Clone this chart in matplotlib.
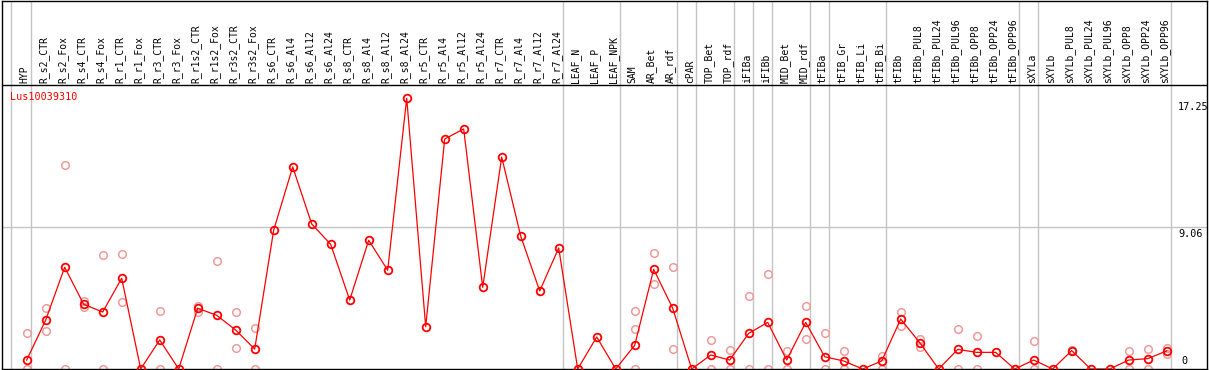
import numpy as np
import matplotlib as mpl
mpl.use('Agg')
import matplotlib.pyplot as plt

labels = ['HYP', 'R_s2_CTR', 'R_s2_Fox', 'R_s4_CTR', 'R_s4_Fox', 'R_r1_CTR', 'R_r1_Fox',
          'R_r3_CTR', 'R_r3_Fox', 'R_r1s2_CTR', 'R_r1s2_Fox', 'R_r3s2_CTR', 'R_r3s2_Fox',
          'R_s6_CTR', 'R_s6_Al4', 'R_s6_Al12', 'R_s6_Al24', 'R_s8_CTR', 'R_s8_Al4',
          'R_s8_Al12', 'R_s8_Al24', 'R_r5_CTR', 'R_r5_Al4', 'R_r5_Al12', 'R_r5_Al24',
          'R_r7_CTR', 'R_r7_Al4', 'R_r7_Al12', 'R_r7_Al24', 'LEAF_N', 'LEAF_P', 'LEAF_NPK',
          'SAM', 'AR_Bet', 'AR_rdf', 'cPAR', 'TOP_Bet', 'TOP_rdf', 'iFIBa', 'iFIBb',
          'MID_Bet', 'MID_rdf', 'tFIBa', 'tFIB_Gr', 'tFIB_Li', 'tFIB_Bi', 'tFIBb',
          'tFIBb_PUL8', 'tFIBb_PUL24', 'tFIBb_PUL96', 'tFIBb_OPP8', 'tFIBb_OPP24',
          'tFIBb_OPP96', 'sXYLa', 'sXYLb', 'sXYLb_PUL8', 'sXYLb_PUL24', 'sXYLb_PUL96',
          'sXYLb_OPP8', 'sXYLb_OPP24', 'sXYLb_OPP96']

means = [0.57, 3.12, 6.48, 4.12, 3.63, 5.78, 0, 1.85, 0, 3.87, 3.42, 2.48, 1.27,
         8.85, 12.87, 9.24, 7.94, 4.39, 8.2, 6.29, 17.25, 2.69, 14.65, 15.29, 5.2,
         13.5, 8.47, 4.97, 7.71, 0, 2.04, 0,
         1.51, 6.35, 3.87, 0, 0.89, 0.57, 2.27, 2.97, 0.57, 2.97, 0.78, 0.51, 0, 0.51,
         3.18, 1.68, 0, 1.25, 1.06, 1.06, 0, 0.57, 0, 1.17, 0, 0, 0.57, 0.66, 1.15]

nan = np.nan
rep1 = [2.27, 3.87, 13.0, 4.33, 7.24, 7.31, nan, 3.67, nan, 4.01, 6.9, 3.61, 2.59,
        nan, nan, nan, nan, nan, nan, nan, nan, nan, nan, nan, nan,
        nan, nan, nan, nan, nan, nan, nan,
        3.69, 7.37, 6.5, nan, 1.85, 1.21, 4.63, 6.03, 1.15, 3.99, 2.27, 1.15, nan, 0.83,
        3.61, 1.91, nan, 2.53, 2.12, nan, nan, 1.76, nan, 1.22, nan, nan, 1.15, 1.25, 1.32]
rep2 = [0, 2.42, 0, 3.97, 0, 4.25, nan, 0, nan, 3.65, 0, 1.32, 0,
        nan, nan, nan, nan, nan, nan, nan, nan, nan, nan, nan, nan,
        nan, nan, nan, nan, nan, nan, nan,
        2.53, 5.39, 1.27, nan, 0, 0, 0, 0, 0, 1.89, 0, 0, nan, 0,
        2.74, 1.4, nan, 0, 0, nan, nan, 0, nan, 1.12, nan, nan, 0, 0, 0.94]
rep3 = [nan] * 32 + [0] + [nan] * 28

group_ends = [0, 28, 31, 34, 35, 37, 38, 39, 41, 42, 45, 52, 53, 60]
grid_value = 9.06
tick_values = ['17.25', '9.06', '0']
gene = 'Lus10039310'

W, H = 1209, 370
X0, DX = 26.7, 19.0      # pixel of first category, spacing
Y0, SY = 369.0, 15.7     # pixel of zero, pixels per unit


def px2x(px):
    return (px - X0) / DX


def px2y(py):
    return (Y0 - py) / SY


fig = plt.figure(figsize=(W / 100, H / 100), dpi=100)
ax = fig.add_axes([1.5 / W, 1 / H, 1205.5 / W, 368.5 / H])
ax.set_xlim(px2x(1.5), px2x(1207))
ax.set_ylim(0, px2y(0.5))
ax.set_xticks([])
ax.set_yticks([])
for s in ax.spines.values():
    s.set_linewidth(1.0)
    s.set_color('black')

font = 'DejaVu Sans Mono'
gray = '#c4c4c4'

# group separators
ax.axvline(px2x(10.7), color=gray, lw=1, zorder=1)
for g in group_ends:
    ax.axvline(g + 0.2, color=gray, lw=1, zorder=1)

ax.axhline(grid_value, color=gray, lw=1, zorder=1)
ax.axhline(px2y(85), color='black', lw=1, zorder=3)

x = np.arange(len(labels))
for r in (rep1, rep2, rep3):
    ax.plot(x, r, 'o', ls='none', ms=5.5, mfc='none', mec='#ee9a9a', mew=1.1, zorder=2)

ax.plot(x, means, '-', color='red', lw=0.9, zorder=4)
ax.plot(x, means, 'o', ls='none', ms=5.5, mfc='none', mec='red', mew=1.3, zorder=5)

for i, lab in enumerate(labels):
    ax.text(i - 0.1, px2y(83), lab, rotation=90, ha='center', va='bottom',
            fontsize=7, family=font, color='black')

ax.text(px2x(10), px2y(97.5), gene, color='red', fontsize=7.3, family=font,
        ha='left', va='center')

ax.text(px2x(1178), px2y(102), tick_values[0], fontsize=7.3, family=font, ha='left', va='top')
ax.text(px2x(1178), px2y(229), tick_values[1], fontsize=7.3, family=font, ha='left', va='top')
ax.text(px2x(1181), px2y(366), tick_values[2], fontsize=7.3, family=font, ha='left', va='bottom')

plt.savefig('out.png', dpi=100)
